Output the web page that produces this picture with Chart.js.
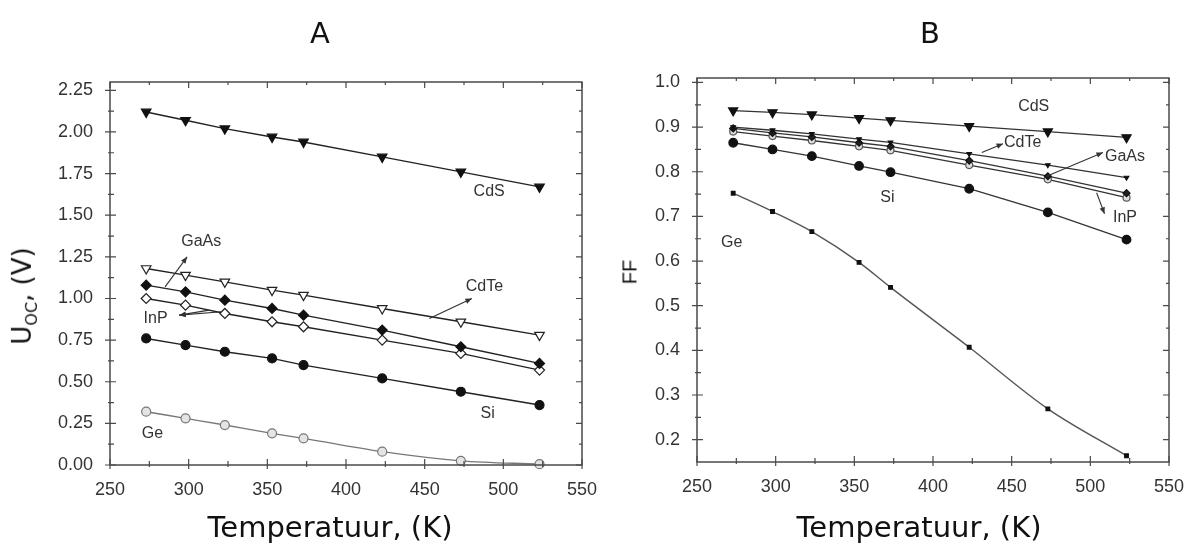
<!DOCTYPE html>
<html>
<head>
<meta charset="utf-8">
<script src="https://cdn.jsdelivr.net/npm/chart.js@4.4.1/dist/chart.umd.min.js"></script>
<style>
  body { margin: 0; background: #fff; width: 1189px; height: 544px; overflow: hidden; position: relative; font-family: "DejaVu Sans", sans-serif; }
  canvas { position: absolute; top: 0; }
  #grafiekA { left: 0; }
  #grafiekB { left: 600px; }
  .kop { position: absolute; top: 16px; font-size: 29px; line-height: 34px; color: #111; transform: translateX(-50%); }
  .xtitel { position: absolute; top: 510px; font-size: 29px; line-height: 34px; color: #111; transform: translateX(-50%); white-space: nowrap; }
  .ytitel { position: absolute; white-space: nowrap; color: #111; transform: translate(-50%, -50%) rotate(-90deg); }
</style>
</head>
<body>
<canvas id="grafiekA" width="600" height="544"></canvas>
<canvas id="grafiekB" width="589" height="544"></canvas>
<div class="kop" style="left:320px">A</div>
<div class="kop" style="left:930px">B</div>
<div class="xtitel" style="left:330px">Temperatuur, (K)</div>
<div class="xtitel" style="left:919px">Temperatuur, (K)</div>
<div class="ytitel" style="left:24px; top:296px; font-size:26px">U<sub style="font-size:16px">OC</sub>, (V)</div>
<div class="ytitel" style="left:630px; top:272px; font-family:'Liberation Sans', Arial, sans-serif; font-size:20px">FF</div>

<script>
// temperaturen van de metingen (K)
const temperaturen = [273, 298, 323, 353, 373, 423, 473, 523];

// A: open klemspanning Uoc (V)
const uocCdS  = [2.12, 2.07, 2.02, 1.97, 1.94, 1.85, 1.76, 1.67];
const uocCdTe = [1.18, 1.14, 1.10, 1.05, 1.02, 0.94, 0.86, 0.78];
const uocGaAs = [1.08, 1.04, 0.99, 0.94, 0.90, 0.81, 0.71, 0.61];
const uocInP  = [1.00, 0.96, 0.91, 0.86, 0.83, 0.75, 0.67, 0.57];
const uocSi   = [0.76, 0.72, 0.68, 0.64, 0.60, 0.52, 0.44, 0.36];
const uocGe   = [0.32, 0.28, 0.24, 0.19, 0.16, 0.08, 0.025, 0.005];

// B: fill factor FF
const ffCdS  = [0.937, 0.933, 0.928, 0.920, 0.915, 0.902, 0.890, 0.877];
const ffCdTe = [0.900, 0.893, 0.885, 0.873, 0.866, 0.840, 0.815, 0.787];
const ffGaAs = [0.897, 0.887, 0.878, 0.865, 0.857, 0.825, 0.790, 0.752];
const ffInP  = [0.890, 0.880, 0.870, 0.857, 0.848, 0.815, 0.783, 0.742];
const ffSi   = [0.865, 0.850, 0.835, 0.813, 0.799, 0.762, 0.709, 0.648];
const ffGe   = [0.752, 0.711, 0.666, 0.597, 0.541, 0.407, 0.269, 0.164];

// ticks
const xTicks   = [250, 300, 350, 400, 450, 500, 550];
const uocTicks = [0, 0.25, 0.5, 0.75, 1.0, 1.25, 1.5, 1.75, 2.0, 2.25];
const ffTicks  = [0.2, 0.3, 0.4, 0.5, 0.6, 0.7, 0.8, 0.9, 1.0];

// labels en pijltjes in de grafiek (in data-eenheden)
const labelsA = [
  { tekst: 'CdS', x: 491, y: 1.64 },
  { tekst: 'GaAs', x: 308, y: 1.34 },
  { tekst: 'CdTe', x: 488, y: 1.07 },
  { tekst: 'InP', x: 279, y: 0.88 },
  { tekst: 'Si', x: 490, y: 0.31 },
  { tekst: 'Ge', x: 277, y: 0.19 }
];
const pijlenA = [
  { van: [285, 1.07], naar: [299, 1.25] },
  { van: [453, 0.88], naar: [480, 1.00] },
  { van: [313, 0.93], naar: [294, 0.90] },
  { van: [321, 0.92], naar: [294, 0.90] }
];
const labelsB = [
  { tekst: 'CdS', x: 464, y: 0.946 },
  { tekst: 'CdTe', x: 457, y: 0.865 },
  { tekst: 'GaAs', x: 522, y: 0.834 },
  { tekst: 'InP', x: 522, y: 0.697 },
  { tekst: 'Si', x: 371, y: 0.742 },
  { tekst: 'Ge', x: 272, y: 0.641 }
];
const pijlenB = [
  { van: [431, 0.843], naar: [444.5, 0.863] },
  { van: [473, 0.791], naar: [508, 0.843] },
  { van: [504, 0.753], naar: [509, 0.706] }
];

const labelFont = "'Liberation Sans', Arial, sans-serif";

function reeks(naam, waarden, stijl) {
  return Object.assign({
    label: naam,
    data: temperaturen.map((t, i) => ({ x: t, y: waarden[i] })),
    showLine: true,
    borderColor: '#222',
    borderWidth: 1.4,
    pointBorderColor: '#111',
    pointBorderWidth: 1.2,
    clip: false
  }, stijl);
}

function pijl(ctx, x1, y1, x2, y2) {
  const hoek = Math.atan2(y2 - y1, x2 - x1);
  ctx.beginPath();
  ctx.moveTo(x1, y1);
  ctx.lineTo(x2, y2);
  ctx.stroke();
  ctx.beginPath();
  ctx.moveTo(x2, y2);
  ctx.lineTo(x2 - 7 * Math.cos(hoek - 0.4), y2 - 7 * Math.sin(hoek - 0.4));
  ctx.lineTo(x2 - 7 * Math.cos(hoek + 0.4), y2 - 7 * Math.sin(hoek + 0.4));
  ctx.closePath();
  ctx.fill();
}

// kader met ticks aan alle kanten + labels
function maakKader(yTicks, labels, pijlen) {
  return {
    id: 'kader',
    afterDatasetsDraw(chart) {
      const ctx = chart.ctx;
      const { left, right, top, bottom } = chart.chartArea;
      const sx = chart.scales.x, sy = chart.scales.y;
      const tussen = lijst => lijst.slice(1).map((v, i) => (v + lijst[i]) / 2);
      ctx.save();
      ctx.strokeStyle = '#4a4a4a';
      ctx.lineWidth = 1.5;
      ctx.strokeRect(left, top, right - left, bottom - top);
      ctx.lineWidth = 1.2;
      ctx.beginPath();
      xTicks.forEach(v => {
        const px = sx.getPixelForValue(v);
        ctx.moveTo(px, bottom + 4); ctx.lineTo(px, bottom - 6);
        ctx.moveTo(px, top); ctx.lineTo(px, top + 6);
      });
      tussen(xTicks).forEach(v => {
        const px = sx.getPixelForValue(v);
        ctx.moveTo(px, bottom + 2); ctx.lineTo(px, bottom - 4);
        ctx.moveTo(px, top); ctx.lineTo(px, top + 3);
      });
      yTicks.forEach(v => {
        const py = sy.getPixelForValue(v);
        ctx.moveTo(left - 5, py); ctx.lineTo(left + 6, py);
        ctx.moveTo(right, py); ctx.lineTo(right - 6, py);
      });
      tussen(yTicks).forEach(v => {
        const py = sy.getPixelForValue(v);
        ctx.moveTo(left - 2, py); ctx.lineTo(left + 4, py);
        ctx.moveTo(right, py); ctx.lineTo(right - 3, py);
      });
      ctx.stroke();

      ctx.fillStyle = '#333';
      ctx.strokeStyle = '#333';
      ctx.lineWidth = 1.1;
      ctx.font = '16px ' + labelFont;
      ctx.textAlign = 'center';
      ctx.textBaseline = 'middle';
      labels.forEach(l => ctx.fillText(l.tekst, sx.getPixelForValue(l.x), sy.getPixelForValue(l.y)));
      pijlen.forEach(p => pijl(ctx,
        sx.getPixelForValue(p.van[0]), sy.getPixelForValue(p.van[1]),
        sx.getPixelForValue(p.naar[0]), sy.getPixelForValue(p.naar[1])));
      ctx.restore();
    }
  };
}

function opties(yMin, yMax, yTicks, decimalen, yBreedte, xHoogte, padding) {
  return {
    responsive: false,
    animation: false,
    layout: { padding: padding },
    plugins: { legend: { display: false }, tooltip: { enabled: false } },
    scales: {
      x: {
        type: 'linear', min: 250, max: 550,
        grid: { display: false }, border: { display: false },
        ticks: { padding: 6, color: '#333', font: { family: labelFont, size: 18 }, callback: v => v },
        afterBuildTicks: s => { s.ticks = xTicks.map(v => ({ value: v })); },
        afterFit: s => { s.height = xHoogte; s.paddingLeft = 0; s.paddingRight = 0; }
      },
      y: {
        type: 'linear', min: yMin, max: yMax,
        grid: { display: false }, border: { display: false },
        ticks: { padding: 9, color: '#333', font: { family: labelFont, size: 18 }, callback: v => Number(v).toFixed(decimalen) },
        afterBuildTicks: s => { s.ticks = yTicks.map(v => ({ value: v })); },
        afterFit: s => { s.width = yBreedte; s.paddingTop = 0; s.paddingBottom = 0; }
      }
    }
  };
}

new Chart(document.getElementById('grafiekA'), {
  type: 'scatter',
  data: {
    datasets: [
      reeks('CdS', uocCdS, { pointStyle: 'triangle', pointRotation: 180, pointRadius: 5.5, pointBackgroundColor: '#111' }),
      reeks('CdTe', uocCdTe, { pointStyle: 'triangle', pointRotation: 180, pointRadius: 5.5, pointBackgroundColor: '#fff', pointBorderColor: '#222' }),
      reeks('GaAs', uocGaAs, { pointStyle: 'rectRot', pointRadius: 5, pointBackgroundColor: '#111' }),
      reeks('InP', uocInP, { pointStyle: 'rectRot', pointRadius: 5, pointBackgroundColor: '#fff', pointBorderColor: '#222' }),
      reeks('Si', uocSi, { pointStyle: 'circle', pointRadius: 4.5, pointBackgroundColor: '#111' }),
      reeks('Ge', uocGe, { pointStyle: 'circle', pointRadius: 4.5, pointBackgroundColor: '#e4e4e4', pointBorderColor: '#777', borderColor: '#777', cubicInterpolationMode: 'monotone' })
    ]
  },
  options: opties(0, 2.3, uocTicks, 2, 110, 79, { left: 0, right: 18, top: 82, bottom: 0 }),
  plugins: [maakKader(uocTicks, labelsA, pijlenA)]
});

new Chart(document.getElementById('grafiekB'), {
  type: 'scatter',
  data: {
    datasets: [
      reeks('CdS', ffCdS, { pointStyle: 'triangle', pointRotation: 180, pointRadius: 5.3, pointBackgroundColor: '#111', borderColor: '#333', borderWidth: 1.3 }),
      reeks('CdTe', ffCdTe, { pointStyle: 'triangle', pointRotation: 180, pointRadius: 2.6, pointBackgroundColor: '#111', borderColor: '#333', borderWidth: 1.3 }),
      reeks('GaAs', ffGaAs, { pointStyle: 'rectRot', pointRadius: 3.5, pointBackgroundColor: '#222', borderColor: '#333', borderWidth: 1.3 }),
      reeks('InP', ffInP, { pointStyle: 'circle', pointRadius: 3.5, pointBackgroundColor: '#ddd', pointBorderColor: '#555', borderColor: '#333', borderWidth: 1.3 }),
      reeks('Si', ffSi, { pointStyle: 'circle', pointRadius: 4.3, pointBackgroundColor: '#111', borderColor: '#333', borderWidth: 1.3 }),
      reeks('Ge', ffGe, { pointStyle: 'rect', pointRadius: 2.6, pointBackgroundColor: '#111', borderColor: '#555', borderWidth: 1.4, cubicInterpolationMode: 'monotone' })
    ]
  },
  options: opties(0.15, 1.01, ffTicks, 1, 97, 82, { left: 0, right: 20, top: 78, bottom: 0 }),
  plugins: [maakKader(ffTicks, labelsB, pijlenB)]
});
</script>
</body>
</html>
